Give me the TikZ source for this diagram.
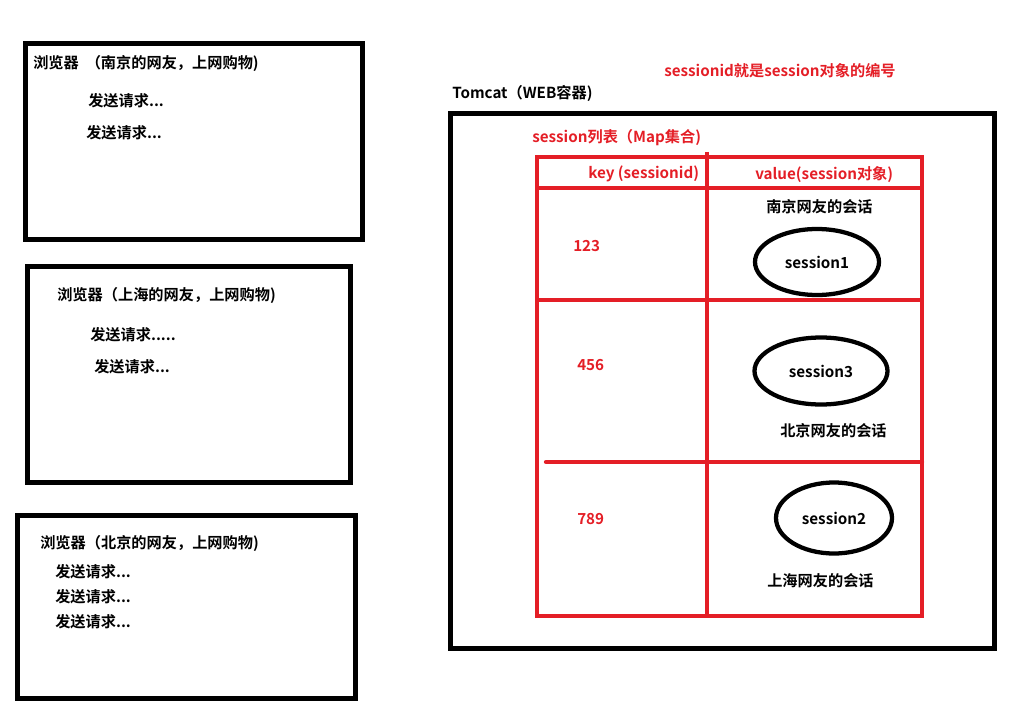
\documentclass[tikz,border=0pt]{standalone}
\usepackage{fontspec}
\setmainfont{Noto Sans CJK SC}[BoldFont={Noto Sans CJK SC Bold}]
\usetikzlibrary{positioning,shapes.geometric}
\definecolor{tabred}{RGB}{228,30,38}
\tikzset{
  board/.style={x=0.75pt,y=-0.75pt,font=\fontsize{11.4}{13}\selectfont\bfseries},
  frame/.style={draw=black,line width=3.75pt},
  grid line/.style={draw=tabred,line width=3.2pt},
  txt/.style={anchor=west,inner sep=0pt},
  redtxt/.style={txt,text=tabred},
  sess/.style={ellipse,draw,line width=3.2pt,inner sep=0pt}
}
\begin{document}
\begin{tikzpicture}[board]
  \useasboundingbox (0,0) rectangle (1016,720);
  % browsers
  \draw[frame] (25,44) rectangle (362,239);
  \draw[frame] (27,266) rectangle (350,482);
  \draw[frame] (17,515) rectangle (355,698);
  \node[txt] (nj) at (33,64) {浏览器\ \ （南京的网友，上网购物)};
  \node[txt] (nj1) at (88,101) {发送请求...};
  \node[txt] (nj2) at (86,133) {发送请求...};
  \node[txt] (sh) at (57,295) {浏览器（上海的网友，上网购物)};
  \node[txt] (sh1) at (90,335) {发送请求.....};
  \node[txt] (sh2) at (94,367) {发送请求...};
  \node[txt] (bj) at (40,543) {浏览器（北京的网友，上网购物)};
  \node[txt] (bj1) at (55,572) {发送请求...};
  \node[txt] (bj2) at (55,597) {发送请求...};
  \node[txt] (bj3) at (55,622) {发送请求...};
  % tomcat
  \node[redtxt] (note) at (664,71) {sessionid就是session对象的编号};
  \node[txt] (tomcat) at (452,93) {Tomcat（WEB容器)};
  \draw[frame] (450,114) rectangle (994,648);
  \node[redtxt] (list) at (532,138) {session列表（Map集合)};
  % session table
  \coordinate (nw) at (537,157);
  \coordinate (se) at (922,616);
  \draw[grid line] (nw) rectangle (se);
  \draw[grid line] (537,188) -- (922,188);
  \draw[grid line] (537,300) -- (922,300);
  \draw[grid line,line cap=round] (546,462) -- (922,462);
  \draw[grid line] (707,152) -- (707,616);
  \node[redtxt] (key) at (588,174) {key (sessionid)};
  \node[redtxt] (value) at (755,175) {value(session对象)};
  \node[redtxt] (k1) at (573,246) {123};
  \node[redtxt] (k2) at (577,365) {456};
  \node[redtxt] (k3) at (577,519) {789};
  \node[txt] (njs) at (766,207) {南京网友的会话};
  \node[sess,minimum width=93pt,minimum height=49.5pt] (s1) at (817,262) {session1};
  \node[sess,minimum width=99.75pt,minimum height=50.25pt] (s3) at (821,371) {session3};
  \node[txt] (bjs) at (780,431) {北京网友的会话};
  \node[sess,minimum width=87pt,minimum height=53.25pt] (s2) at (834,518) {session2};
  \node[txt] (shs) at (767,581) {上海网友的会话};
\end{tikzpicture}
\end{document}
